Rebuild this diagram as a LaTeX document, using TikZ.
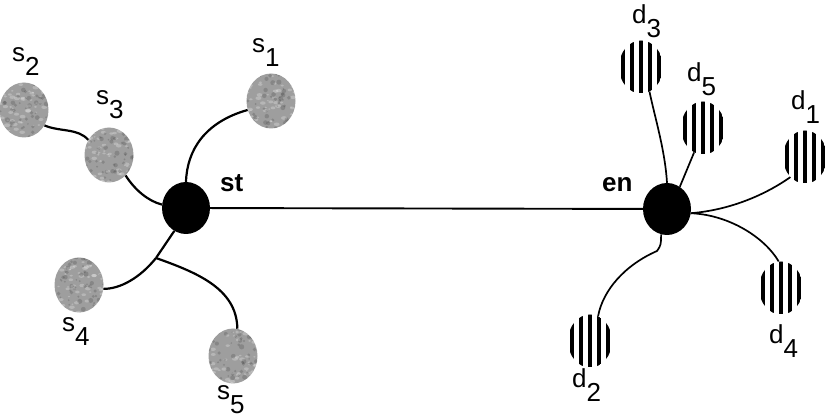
\documentclass[tikz,border=0pt]{standalone}
\usepackage{fontspec}
\setmainfont{Liberation Sans}
\usetikzlibrary{shapes.geometric}
\newcommand\lblsub[2]{#1\raisebox{-14pt}{#2}}
\tikzset{
  hub/.style={ellipse, fill=black, minimum width=48pt, minimum height=52pt, inner sep=0pt},
  src/.style={ellipse, minimum width=49pt, minimum height=55pt, inner sep=0pt, fill=gray!76!white,
    path picture={
      \foreach \i in {1,...,55}{
        \pgfmathsetmacro\px{rand*25}\pgfmathsetmacro\py{rand*28}\pgfmathsetmacro\rr{1+rnd*2.2}
        \fill[white,opacity=0.25] ([shift={(\px pt,\py pt)}]path picture bounding box.center) ellipse[x radius=\rr pt, y radius=0.6*\rr pt];
      }
      \foreach \i in {1,...,55}{
        \pgfmathsetmacro\px{rand*25}\pgfmathsetmacro\py{rand*28}\pgfmathsetmacro\rr{0.8+rnd*1.8}
        \fill[black,opacity=0.15] ([shift={(\px pt,\py pt)}]path picture bounding box.center) circle[radius=\rr pt];
      }
    }},
  dst/.style={ellipse, minimum width=44pt, minimum height=53pt, inner sep=0pt,
    path picture={
      \foreach \o in {-18,-9,0,9,18}
        \fill[black] ([xshift={(\o-1.8)*1pt}]path picture bounding box.south) rectangle ([xshift={(\o+1.8)*1pt}]path picture bounding box.north);
    }},
  lbl/.style={anchor=base west, inner sep=0pt, font=\fontsize{26}{26}\selectfont},
  hubl/.style={anchor=base west, inner sep=0pt, font=\fontsize{26}{26}\selectfont\bfseries},
  sline/.style={line width=2.2pt},
  dline/.style={line width=1.7pt},
}
\begin{document}
\begin{tikzpicture}[x=1pt, y=-1pt]
\pgfmathsetseed{7}
\useasboundingbox (0,0) rectangle (831,419);
% hubs
\node[hub] (st) at (186,208) {};
\node[hub] (en) at (667,209) {};
% sources
\node[src] (s1) at (271,101) {};
\node[src] (s2) at (24,110) {};
\node[src] (s3) at (109,155) {};
\node[src] (s4) at (79,285) {};
\node[src] (s5) at (233,356) {};
% destinations
\node[dst] (d1) at (805,157) {};
\node[dst] (d2) at (590,341) {};
\node[dst] (d3) at (641,67) {};
\node[dst] (d4) at (781,288) {};
\node[dst] (d5) at (703,128) {};
% labels
\node[hubl] (lst) at (220,192) {st};
\node[hubl] (len) at (602,192) {en};
\node[lbl] (ls1) at (252,53) {\lblsub{s}{1}};
\node[lbl] (ls2) at (12,62) {\lblsub{s}{2}};
\node[lbl] (ls3) at (96,105) {\lblsub{s}{3}};
\node[lbl] (ls4) at (62,332) {\lblsub{s}{4}};
\node[lbl] (ls5) at (217,400) {\lblsub{s}{5}};
\node[lbl] (ld1) at (791,110) {\lblsub{d}{1}};
\node[lbl] (ld2) at (572,388) {\lblsub{d}{2}};
\node[lbl] (ld3) at (632,24) {\lblsub{d}{3}};
\node[lbl] (ld4) at (769,344) {\lblsub{d}{4}};
\node[lbl] (ld5) at (687,82) {\lblsub{d}{5}};
% connectors
\draw[line width=1.9pt] (st) -- (en);
\coordinate (b1) at (156,258);
\coordinate (k) at (657,251);
\draw[sline] (s2.-37) .. controls (60,132) and (78,128) .. (s3.144);
\draw[sline] (s3.-51) .. controls (135,190) and (148,201) .. (st.172);
\draw[sline] (st.90) .. controls (187,150) and (205,122) .. (s1.-159);
\draw[sline] (st.-117) -- (b1);
\draw[sline] (b1) .. controls (140,278) and (120,289) .. (s4.-9);
\draw[sline] (b1) .. controls (195,272) and (237,288) .. (s5.81);
\draw[dline] (en.90) .. controls (665,150) and (655,118) .. (d3.-71);
\draw[dline] (en.60) -- (d5.-110);
\draw[dline] (en.-10) .. controls (730,210) and (765,195) .. (d1.-126);
\draw[dline] (en.-10) .. controls (730,215) and (765,238) .. (d4.95);
\draw[dline] (en.-103) .. controls (661,245) .. (k) .. controls (625,265) and (603,290) .. (d2.72);
\end{tikzpicture}
\end{document}
